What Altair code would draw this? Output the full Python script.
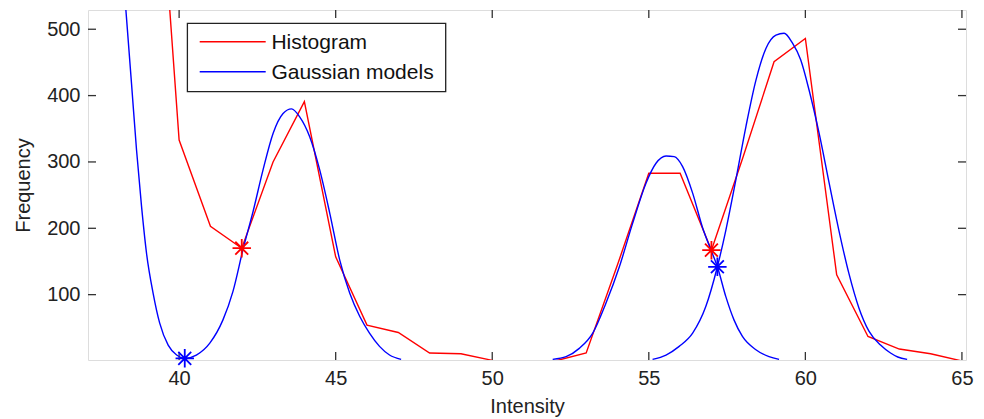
import altair as alt
import pandas as pd

# ---------------- data ----------------
hist_x = list(range(39, 66))
hist_y = [990, 333, 203, 170, 300, 391, 157, 54, 43, 12, 11, 1, 0, 0, 12, 145,
          283, 283, 167, 306, 451, 486, 130, 37, 18, 11, 0]

gA_x = [38.15, 38.30, 38.48, 38.64, 38.80, 38.96, 39.17, 39.38, 39.65, 39.92, 40.18,
        40.55, 40.98, 41.40, 41.72, 42.04, 42.36, 42.68, 43.00, 43.32, 43.59, 43.85,
        44.17, 44.49, 44.81, 45.13, 45.45, 45.77, 46.08, 46.40, 46.72, 47.09]
gA_y = [621, 529, 418, 318, 233, 162, 102, 57, 24, 9, 4,
        9, 27, 62, 105, 168, 225, 288, 343, 373, 380, 368,
        338, 288, 223, 152, 102, 67, 42, 22, 9, 2.5]

gB_x = [51.93, 52.36, 52.78, 53.21, 53.63, 54.06, 54.48, 54.91, 55.23, 55.55, 55.81,
        56.08, 56.40, 56.71, 57.03, 57.19, 57.46, 57.72, 57.99, 58.42, 58.84, 59.16]
gB_y = [2.5, 6.5, 19, 42, 87, 142, 207, 268, 298, 309, 308,
        293, 253, 202, 162, 142, 97, 62, 37, 17, 6.5, 2.5]

gC_x = [55.12, 55.55, 55.97, 56.40, 56.82, 57.19, 57.46, 57.78, 58.10, 58.42, 58.74,
        59.06, 59.32, 59.59, 59.85, 60.12, 60.44, 60.76, 61.07, 61.39, 61.71, 62.03,
        62.40, 62.72, 62.95, 63.25]
gC_y = [2.5, 9, 22, 42, 82, 142, 197, 273, 353, 423, 471,
        491, 494, 479, 454, 408, 343, 268, 197, 132, 80, 45,
        24, 12, 6, 2.5]

red_star_x = [42, 57]
red_star_y = [170, 167]
blue_star_x = [40.18, 57.19]
blue_star_y = [4, 142]

x_ticks = [40, 45, 50, 55, 60, 65]
y_ticks = [100, 200, 300, 400, 500]

legend_labels = ["Histogram", "Gaussian models"]
legend_colors = ["#ff0000", "#0000ff"]

# ---------------- chart ----------------
W, H = 878, 350
FONT = "Liberation Sans"
AX = "#333333"

xs = alt.Scale(domain=[37.09, 65.13], nice=False, zero=False)
ys = alt.Scale(domain=[1.5, 529], nice=False, zero=False)

x_axis = alt.Axis(values=x_ticks, title="Intensity", ticks=False, domain=False, grid=False,
                  labelPadding=8, labelFont=FONT, labelFontSize=20, labelColor="#222222",
                  titleFont=FONT, titleFontSize=20, titleFontWeight="normal", titleColor="#222222",
                  titleY=52, titleBaseline="alphabetic")
y_axis = alt.Axis(values=y_ticks, title="Frequency", ticks=False, domain=False, grid=False,
                  labelPadding=8, labelFont=FONT, labelFontSize=20, labelColor="#222222",
                  titleFont=FONT, titleFontSize=20, titleFontWeight="normal", titleColor="#222222",
                  titleX=-59, titleY=H / 2, titleBaseline="alphabetic")

X = alt.X("x:Q", scale=xs, axis=x_axis)
Y = alt.Y("y:Q", scale=ys, axis=y_axis)

hist_df = pd.DataFrame({"x": hist_x, "y": hist_y})
gauss_df = pd.concat([
    pd.DataFrame({"x": gA_x, "y": gA_y, "c": "A"}),
    pd.DataFrame({"x": gB_x, "y": gB_y, "c": "B"}),
    pd.DataFrame({"x": gC_x, "y": gC_y, "c": "C"}),
])
red_star_df = pd.DataFrame({"x": red_star_x, "y": red_star_y})
blue_star_df = pd.DataFrame({"x": blue_star_x, "y": blue_star_y})
xt_df = pd.DataFrame({"x": x_ticks})
yt_df = pd.DataFrame({"y": y_ticks})

hist_line = alt.Chart(hist_df).mark_line(color=legend_colors[0], strokeWidth=1.4, clip=True).encode(
    x=X, y=Y)
gauss_line = alt.Chart(gauss_df).mark_line(color=legend_colors[1], strokeWidth=1.4, clip=True,
                                           interpolate="monotone").encode(
    x=X, y=Y, detail="c:N")

STAR = "M-1,0L1,0M0,-1L0,1M-0.7,-0.7L0.7,0.7M-0.7,0.7L0.7,-0.7"
red_star = alt.Chart(red_star_df).mark_point(shape=STAR, filled=False, size=340,
                                              color=legend_colors[0], strokeWidth=1.8,
                                              opacity=1).encode(x=X, y=Y)
blue_star = alt.Chart(blue_star_df).mark_point(shape=STAR, filled=False, size=340,
                                                color=legend_colors[1], strokeWidth=1.8,
                                                opacity=1).encode(x=X, y=Y)

XT = alt.X("x:Q", scale=xs, axis=x_axis)
YT = alt.Y("y:Q", scale=ys, axis=y_axis)
tick_bottom = alt.Chart(xt_df).mark_rule(color=AX, strokeWidth=1.3).encode(
    x=XT, y=alt.value(H), y2=alt.value(H - 8))
tick_top = alt.Chart(xt_df).mark_rule(color=AX, strokeWidth=1.3).encode(
    x=XT, y=alt.value(0), y2=alt.value(8))
tick_left = alt.Chart(yt_df).mark_rule(color=AX, strokeWidth=1.3).encode(
    y=YT, x=alt.value(0), x2=alt.value(8))
tick_right = alt.Chart(yt_df).mark_rule(color=AX, strokeWidth=1.3).encode(
    y=YT, x=alt.value(W - 8), x2=alt.value(W))

leg_df = pd.DataFrame({"label": legend_labels, "color": legend_colors})
leg_box = alt.Chart(leg_df.head(1)).mark_rect(fill="white", stroke="#222222", strokeWidth=1.3).encode(
    x=alt.value(99.4), x2=alt.value(357.7), y=alt.value(13.3), y2=alt.value(81.7))
leg_layers = [leg_box]
for i, (lab, col) in enumerate(zip(legend_labels, legend_colors)):
    yy = 31.7 + 30 * i
    one = leg_df.iloc[[i]]
    leg_layers.append(alt.Chart(one).mark_rule(color=col, strokeWidth=1.4).encode(
        x=alt.value(111.7), x2=alt.value(177.7), y=alt.value(yy)))
    leg_layers.append(alt.Chart(one).mark_text(align="left", baseline="middle", font=FONT,
                                               fontSize=21, color="#111111").encode(
        x=alt.value(183.4), y=alt.value(yy + 1), text="label:N"))

chart = alt.layer(
    tick_bottom, tick_top, tick_left, tick_right,
    hist_line, gauss_line, red_star, blue_star, *leg_layers
).properties(
    width=W, height=H,
    padding={"left": 88, "top": 10, "right": 18, "bottom": 59},
    autosize=alt.AutoSizeParams(type="none"),
).configure_view(stroke=AX, strokeWidth=1.5).configure(background="white")

chart.save("out.html", embed_options={"renderer": "svg", "actions": False})
